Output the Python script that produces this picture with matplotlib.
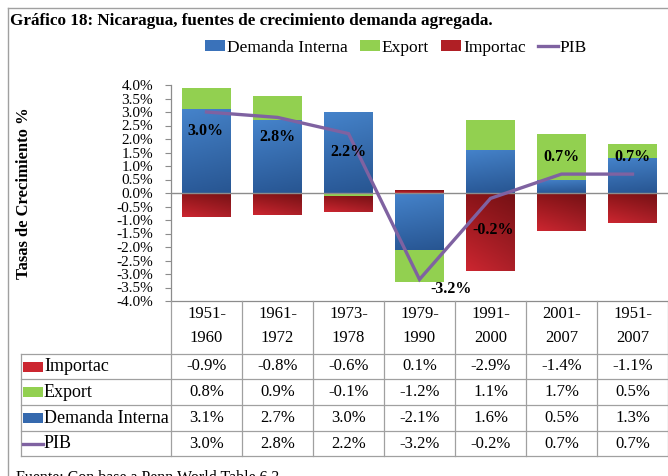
import numpy as np
import matplotlib
matplotlib.use("Agg")
import matplotlib.pyplot as plt
from matplotlib.patches import Rectangle, Patch
from matplotlib.lines import Line2D
from matplotlib.colors import to_rgb

plt.rcParams['font.family'] = ['Liberation Serif', 'DejaVu Serif']

# ---------------- data ----------------
cat_top = ["1951-", "1961-", "1973-", "1979-", "1991-", "2001-", "1951-"]
cat_bot = ["1960", "1972", "1978", "1990", "2000", "2007", "2007"]
demanda = [3.1, 2.7, 3.0, -2.1, 1.6, 0.5, 1.3]
export = [0.8, 0.9, -0.1, -1.2, 1.1, 1.7, 0.5]
importac = [-0.9, -0.8, -0.6, 0.1, -2.9, -1.4, -1.1]
pib = [3.0, 2.8, 2.2, -3.2, -0.2, 0.7, 0.7]
yticks = np.arange(-4.0, 4.01, 0.5)
# label offsets (points) for PIB data labels
lab_off = [(-1, -14), (0, -14), (0, -13), (23, -7), (2, -23), (0, 12), (0, 12)]

title = "Gráfico 18: Nicaragua, fuentes de crecimiento demanda agregada."
ylabel = "Tasas de Crecimiento %"
fuente = "Fuente: Con base a Penn World Table 6.3"

BLUE_T, BLUE_B = "#4583CB", "#2A5A99"
GREEN = "#92D050"
RED_T, RED_B = "#8A1418", "#CC2630"
PURPLE = "#7F62A1"
GRID = "#8C8C8C"

W, H = 668, 476
fig = plt.figure(figsize=(W / 100, H / 100), dpi=100)

def fx(px):
    return px / W

def fy(py):
    return 1 - py / H

ax_l, ax_r, ax_t, ax_b = 171, 668, 85, 301
ax = fig.add_axes([fx(ax_l), fy(ax_b), fx(ax_r - ax_l), fy(ax_t) - fy(ax_b)])
ax.set_facecolor("none")
x = np.arange(len(demanda))

# stacking (Excel style: positives up, negatives down)
pos_base = np.zeros(len(x))
neg_base = np.zeros(len(x))
series = [(demanda, "Demanda Interna", (BLUE_T, BLUE_B)),
          (export, "Export", (GREEN, GREEN)),
          (importac, "Importac", (RED_T, RED_B))]

def grad_fill(bar, ctop, cbot, hshade=0.0):
    bx, by = bar.get_x(), bar.get_y()
    bw, bh = bar.get_width(), bar.get_height()
    y0, y1 = min(by, by + bh), max(by, by + bh)
    n = 64
    t = np.linspace(0, 1, n)[:, None, None]
    ct = np.array(to_rgb(ctop))[None, None, :]
    cb = np.array(to_rgb(cbot))[None, None, :]
    arr = ct * (1 - t) + cb * t
    arr = np.repeat(arr, 16, axis=1)
    if hshade:
        s = np.linspace(1.0, 1.0 - hshade, 16)[None, :, None]
        arr = arr * s
    img = ax.imshow(np.clip(arr, 0, 1), extent=(bx, bx + bw, y0, y1), origin="upper",
                    aspect="auto", zorder=2, interpolation="bilinear")
    img.set_clip_path(bar)
    bar.set_facecolor("none")

for vals, name, (ct, cb) in series:
    vals = np.array(vals)
    base = np.where(vals >= 0, pos_base, neg_base)
    bars = ax.bar(x, vals, width=0.68, bottom=base, color=ct, edgecolor="none",
                  zorder=2, label=name)
    for b in bars:
        if ct != cb:
            grad_fill(b, ct, cb, hshade=0.15 if name == "Importac" else 0.05)
    pos_base = np.where(vals >= 0, pos_base + vals, pos_base)
    neg_base = np.where(vals < 0, neg_base + vals, neg_base)

ax.plot(x, pib, color=PURPLE, lw=2.4, zorder=4, solid_joinstyle="miter")
for xi, v, (dx, dy) in zip(x, pib, lab_off):
    ax.annotate(f"{v:.1f}%", (xi, v), xytext=(dx, dy), textcoords="offset points",
                ha="center", va="center", fontsize=11.5, fontweight="bold", zorder=5)

ax.axhline(0, color=GRID, lw=1.0, zorder=3)
ax.set_xlim(-0.5, len(x) - 0.5)
ax.set_ylim(-4.0, 4.0)
ax.set_yticks(yticks)
ax.set_yticklabels([f"{v:.1f}%" for v in yticks], fontsize=11)
ax.tick_params(axis="y", length=4, width=0.8, color=GRID, pad=9)
ax.set_xticks([])
for s in ["top", "right"]:
    ax.spines[s].set_visible(False)
ax.spines["left"].set_color(GRID)
ax.spines["bottom"].set_color(GRID)
ax.spines["left"].set_linewidth(0.9)
ax.spines["bottom"].set_linewidth(0.9)
ax.set_ylabel(ylabel, fontsize=12, fontweight="bold")
ax.yaxis.set_label_coords((32 - ax_l) / (ax_r - ax_l), 0.5)

# ---------------- table ----------------
tb_top, tb_bot = 301, 456
tab = fig.add_axes([fx(ax_l), fy(tb_bot), fx(ax_r - ax_l), fy(tb_top) - fy(tb_bot)])
tab.set_xlim(-0.5, len(x) - 0.5)
tab.set_ylim(tb_bot, tb_top)
tab.axis("off")
units_per_px = len(x) / (ax_r - ax_l)
hdr_left = -0.5 - (ax_l - 21) * units_per_px
row_edges = [354, 379, 405, 431, 456]
lc = "#A0A0A0"
kw = dict(color=lc, lw=0.9, clip_on=False)
# vertical column lines
for i in range(len(x) + 1):
    xv = -0.5 + i
    tab.plot([xv, xv], [tb_top, tb_bot], **kw)
tab.plot([hdr_left, hdr_left], [row_edges[0], tb_bot], **kw)
for ry in row_edges:
    tab.plot([hdr_left, len(x) - 0.5], [ry, ry], **kw)

for i in range(len(x)):
    tab.text(x[i], 314, cat_top[i], ha="center", va="center", fontsize=12, clip_on=False)
    tab.text(x[i], 338, cat_bot[i], ha="center", va="center", fontsize=12, clip_on=False)

rows = [("Importac", importac, "patch", RED_B),
        ("Export", export, "patch", GREEN),
        ("Demanda Interna", demanda, "patch", "#3569AE"),
        ("PIB", pib, "line", PURPLE)]
key_x0 = hdr_left + 2 * units_per_px
key_w = 20 * units_per_px
for r, (name, vals, kind, col) in enumerate(rows):
    yc = (row_edges[r] + row_edges[r + 1]) / 2
    if kind == "patch":
        tab.add_patch(Rectangle((key_x0, yc - 5), key_w, 10, facecolor=col,
                                edgecolor="none", clip_on=False))
    else:
        tab.plot([key_x0, key_x0 + key_w], [yc, yc], color=col, lw=2.4, clip_on=False)
    tab.text(key_x0 + key_w + 1 * units_per_px, yc, name, ha="left", va="center",
             fontsize=13, clip_on=False)
    for i, v in enumerate(vals):
        tab.text(x[i], yc, f"{v:.1f}%", ha="center", va="center", fontsize=12,
                 clip_on=False)

# ---------------- legend, title, border ----------------
handles = [Patch(facecolor="#3A72BA", edgecolor="none"),
           Patch(facecolor=GREEN, edgecolor="none"),
           Patch(facecolor="#B01F25", edgecolor="none"),
           Line2D([0], [0], color=PURPLE, lw=2.4)]
fig.legend(handles, ["Demanda Interna", "Export", "Importac", "PIB"],
           loc="center", bbox_to_anchor=(fx(396), fy(48)), ncol=4, frameon=False,
           fontsize=12.5, handlelength=1.15, handleheight=0.6, handletextpad=0.1,
           columnspacing=0.7)

fig.text(fx(10), fy(21), title, ha="left", va="center", fontsize=12.3, fontweight="bold")
fig.text(fx(16), fy(478), fuente, ha="left", va="center", fontsize=11.5)

fig.add_artist(Line2D([fx(8), 1], [fy(8), fy(8)], color="#A0A0A0", lw=1.0))
fig.add_artist(Line2D([fx(8), fx(8)], [fy(8), 0], color="#A0A0A0", lw=1.0))

fig.savefig("out.png", dpi=100)
